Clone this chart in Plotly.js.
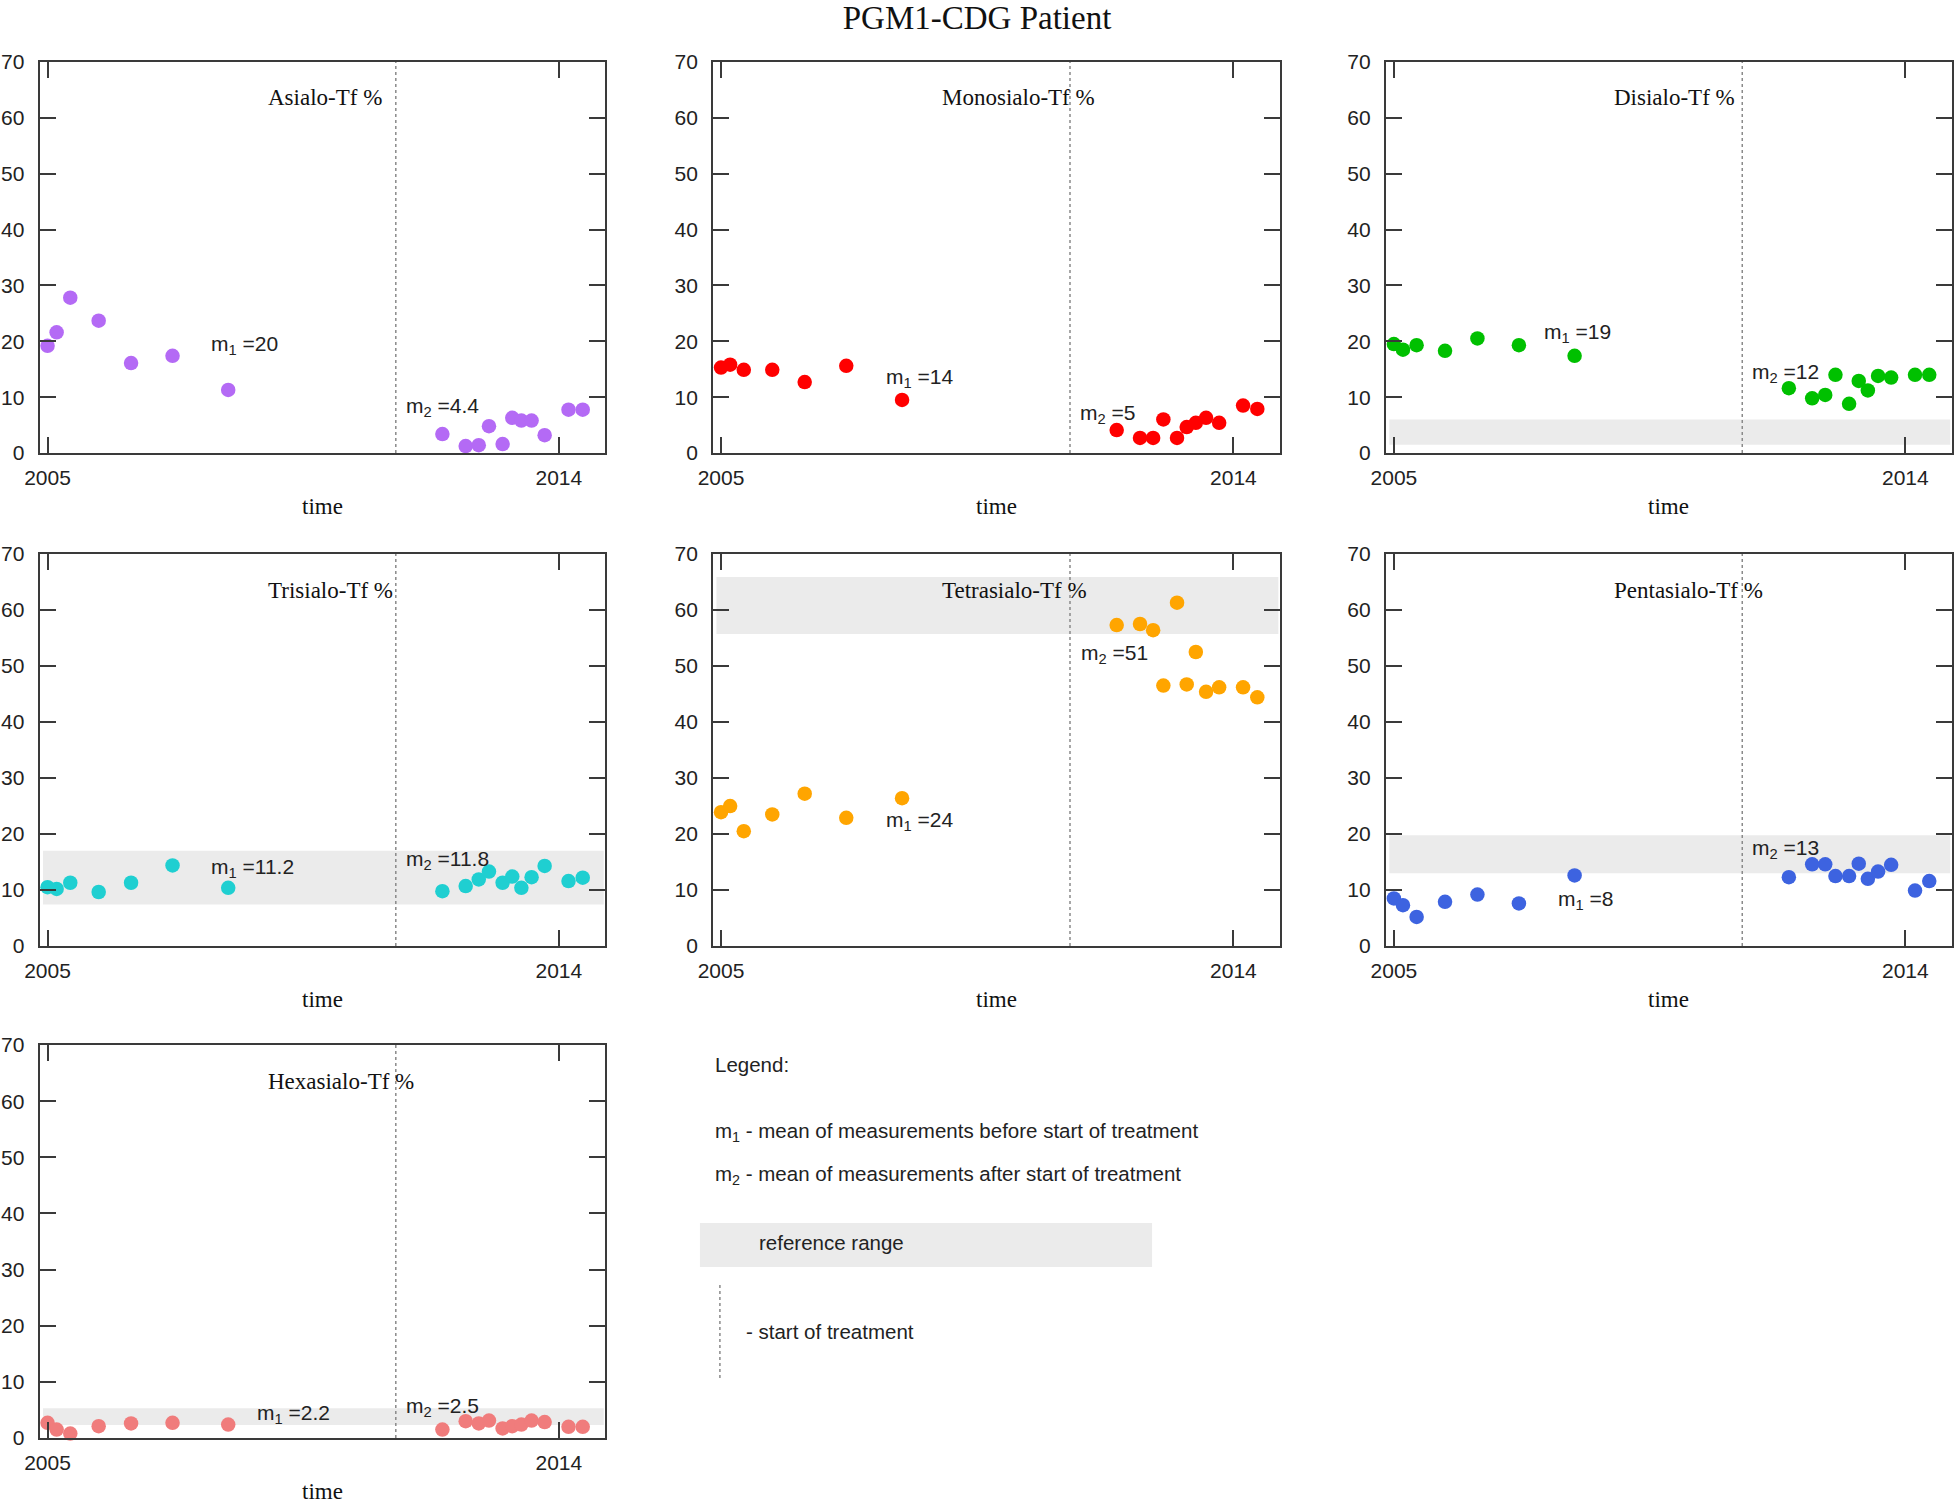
<!DOCTYPE html>
<html>
<head>
<meta charset="utf-8">
<script src="https://cdn.plot.ly/plotly-3.0.1.min.js"></script>
<style>html,body{margin:0;padding:0;background:#fff;}#chart{width:1960px;height:1505px;}</style>
</head>
<body>
<div id="chart"></div>
<script>
// ---- data ----
const dates = [2005.0, 2005.16, 2005.40, 2005.90, 2006.47, 2007.20, 2008.18,
               2011.95, 2012.36, 2012.59, 2012.77, 2013.01, 2013.18, 2013.34, 2013.52, 2013.75, 2014.17, 2014.42];
const treatmentStart = 2011.13;

const asialo      = [19.2, 21.6, 27.8, 23.7, 16.1, 17.4, 11.3, 3.4, 1.25, 1.4, 4.8, 1.6, 6.3, 5.8, 5.8, 3.2, 7.75, 7.75];
const monosialo   = [15.3, 15.8, 14.9, 14.9, 12.7, 15.6, 9.5, 4.1, 2.7, 2.7, 6.0, 2.7, 4.65, 5.4, 6.3, 5.4, 8.5, 7.9];
const disialo     = [19.5, 18.5, 19.3, 18.3, 20.5, 19.3, 17.4, 11.6, 9.8, 10.4, 14.0, 8.8, 12.9, 11.2, 13.8, 13.5, 14.0, 14.0];
const trisialo    = [10.5, 10.2, 11.3, 9.65, 11.3, 14.4, 10.4, 9.8, 10.7, 11.9, 13.3, 11.3, 12.4, 10.4, 12.3, 14.3, 11.6, 12.2];
const tetrasialo  = [23.9, 25.0, 20.5, 23.5, 27.2, 22.9, 26.4, 57.3, 57.5, 56.4, 46.5, 61.3, 46.7, 52.5, 45.4, 46.2, 46.2, 44.4];
const pentasialo  = [8.5, 7.3, 5.2, 7.9, 9.2, 7.6, 12.6, 12.3, 14.6, 14.6, 12.5, 12.5, 14.7, 12.0, 13.3, 14.5, 9.9, 11.6];
const hexasialo   = [2.7, 1.5, 0.8, 2.1, 2.6, 2.7, 2.4, 1.5, 3.0, 2.6, 3.1, 1.7, 2.1, 2.4, 3.1, 2.85, 2.0, 2.0];

const panelNames  = ['Asialo-Tf %', 'Monosialo-Tf %', 'Disialo-Tf %', 'Trisialo-Tf %', 'Tetrasialo-Tf %', 'Pentasialo-Tf %', 'Hexasialo-Tf %'];
const meanBefore  = ['20', '14', '19', '11.2', '24', '8', '2.2'];
const meanAfter   = ['4.4', '5', '12', '11.8', '51', '13', '2.5'];
const refLow      = [null, null, 1.5, 7.4, 55.7, 13.0, 2.3];
const refHigh     = [null, null, 6.0, 17.0, 65.9, 19.8, 5.3];
const xTickVals   = [2005, 2014];
const xTickText   = ['2005', '2014'];
const yTickVals   = [0, 10, 20, 30, 40, 50, 60, 70];

// ---- styling / placement (not data) ----
const series = [asialo, monosialo, disialo, trisialo, tetrasialo, pentasialo, hexasialo];
const colors = ['#b46af5', '#ff0000', '#00c000', '#1fcfd1', '#ffa500', '#3d63e0', '#f07c7c'];
const m1Pos = [[2007.85, 19.4], [2007.87, 13.4], [2007.6, 21.5], [2007.85, 13.9], [2007.87, 22.3], [2007.85, 8.2], [2008.66, 4.3]];
const m2Pos = [[2011.27, 8.3], [2011.27, 6.9], [2011.27, 14.3], [2011.27, 15.3], [2011.29, 52.2], [2011.27, 17.4], [2011.27, 5.6]];
const colDomains = [[0.0202, 0.3089], [0.3638, 0.6531], [0.7071, 0.9959]];
const rowDomains = [[0.6990, 0.9588], [0.3714, 0.6319], [0.0445, 0.3056]];
const cells = [[0,0],[1,0],[2,0],[0,1],[1,1],[2,1],[0,2]];

const SANS = 'Liberation Sans, Arial, sans-serif';
const SERIF = 'Liberation Serif, Times New Roman, serif';
const INK = '#222222';
const FRAME = '#3a3a3a';

const traces = [];
const shapes = [];
const annotations = [];
const layout = {
  width: 1960, height: 1505,
  margin: {l: 0, r: 0, t: 0, b: 0},
  paper_bgcolor: '#ffffff', plot_bgcolor: '#ffffff',
  showlegend: false,
  title: {text: 'PGM1-CDG Patient', x: 0.4985, y: 0.9887, xanchor: 'center', yanchor: 'middle',
          font: {family: SERIF, size: 33, color: '#111111'}},
  shapes: shapes, annotations: annotations
};

series.forEach((vals, i) => {
  const n = i + 1;
  const xa = n === 1 ? 'x' : 'x' + n;
  const ya = n === 1 ? 'y' : 'y' + n;
  const [c, r] = cells[i];
  traces.push({
    type: 'scatter', mode: 'markers', x: dates, y: vals, xaxis: xa, yaxis: ya,
    marker: {color: colors[i], size: 14.5, line: {width: 0}},
    cliponaxis: false, hoverinfo: 'x+y'
  });
  layout[n === 1 ? 'xaxis' : 'xaxis' + n] = {
    domain: colDomains[c], anchor: ya, range: [2004.86, 2014.82],
    tickmode: 'array', tickvals: xTickVals, ticktext: xTickText,
    ticks: 'inside', ticklen: 16, tickwidth: 2, tickcolor: FRAME,
    showline: true, linecolor: FRAME, linewidth: 2, mirror: 'ticks',
    showgrid: false, zeroline: false, ticklabelstandoff: 5,
    tickfont: {family: SANS, size: 21, color: INK}, fixedrange: true
  };
  layout[n === 1 ? 'yaxis' : 'yaxis' + n] = {
    domain: rowDomains[r], anchor: xa, range: [0, 70],
    tickmode: 'array', tickvals: yTickVals,
    ticks: 'inside', ticklen: 16, tickwidth: 2, tickcolor: FRAME,
    showline: true, linecolor: FRAME, linewidth: 2, mirror: 'ticks',
    showgrid: false, zeroline: false, ticklabelstandoff: 9,
    tickfont: {family: SANS, size: 21, color: INK}, fixedrange: true
  };
  if (refLow[i] !== null) {
    shapes.push({type: 'rect', layer: 'below', xref: xa + ' domain', yref: ya,
      x0: 0.006, x1: 0.997, y0: refLow[i], y1: refHigh[i],
      fillcolor: '#ebebeb', line: {width: 0}});
  }
  shapes.push({type: 'line', layer: 'above', xref: xa, yref: ya + ' domain',
    x0: treatmentStart, x1: treatmentStart, y0: 0, y1: 1,
    line: {color: '#8a8a8a', width: 1.5, dash: 'dot'}});
  annotations.push({xref: xa + ' domain', yref: ya + ' domain', x: 0.4, y: 0.908,
    xanchor: 'left', yanchor: 'middle', showarrow: false, text: panelNames[i],
    font: {family: SERIF, size: 23, color: '#111111'}});
  annotations.push({xref: xa + ' domain', yref: ya + ' domain', x: 0.5, y: -0.136,
    xanchor: 'center', yanchor: 'middle', showarrow: false, text: 'time',
    font: {family: SERIF, size: 23, color: '#111111'}});
  annotations.push({xref: xa, yref: ya, x: m1Pos[i][0], y: m1Pos[i][1],
    xanchor: 'left', yanchor: 'middle', showarrow: false,
    text: 'm<sub>1</sub> =' + meanBefore[i], font: {family: SANS, size: 21, color: INK}});
  annotations.push({xref: xa, yref: ya, x: m2Pos[i][0], y: m2Pos[i][1],
    xanchor: 'left', yanchor: 'middle', showarrow: false,
    text: 'm<sub>2</sub> =' + meanAfter[i], font: {family: SANS, size: 21, color: INK}});
});

// ---- legend block ----
const legFont = {family: SANS, size: 20.5, color: INK};
annotations.push({xref: 'paper', yref: 'paper', x: 0.3638, y: 0.2924, xanchor: 'left', yanchor: 'middle',
  showarrow: false, text: 'Legend:', font: legFont});
annotations.push({xref: 'paper', yref: 'paper', x: 0.3638, y: 0.2478, xanchor: 'left', yanchor: 'middle',
  showarrow: false, text: 'm<sub>1</sub> - mean of measurements before start of treatment', font: legFont});
annotations.push({xref: 'paper', yref: 'paper', x: 0.3638, y: 0.2193, xanchor: 'left', yanchor: 'middle',
  showarrow: false, text: 'm<sub>2</sub> - mean of measurements after start of treatment', font: legFont});
shapes.push({type: 'rect', xref: 'paper', yref: 'paper', x0: 0.3571, x1: 0.5878, y0: 0.1581, y1: 0.1874,
  fillcolor: '#ebebeb', line: {width: 0}, layer: 'below'});
annotations.push({xref: 'paper', yref: 'paper', x: 0.3862, y: 0.1741, xanchor: 'left', yanchor: 'middle',
  showarrow: false, text: 'reference range', font: legFont});
shapes.push({type: 'line', xref: 'paper', yref: 'paper', x0: 0.3673, x1: 0.3673, y0: 0.0844, y1: 0.1475,
  line: {color: '#8a8a8a', width: 1.5, dash: 'dot'}});
annotations.push({xref: 'paper', yref: 'paper', x: 0.3796, y: 0.1156, xanchor: 'left', yanchor: 'middle',
  showarrow: false, text: '- start of treatment', font: legFont});

Plotly.newPlot('chart', traces, layout, {displayModeBar: false, staticPlot: true});
</script>
</body>
</html>
